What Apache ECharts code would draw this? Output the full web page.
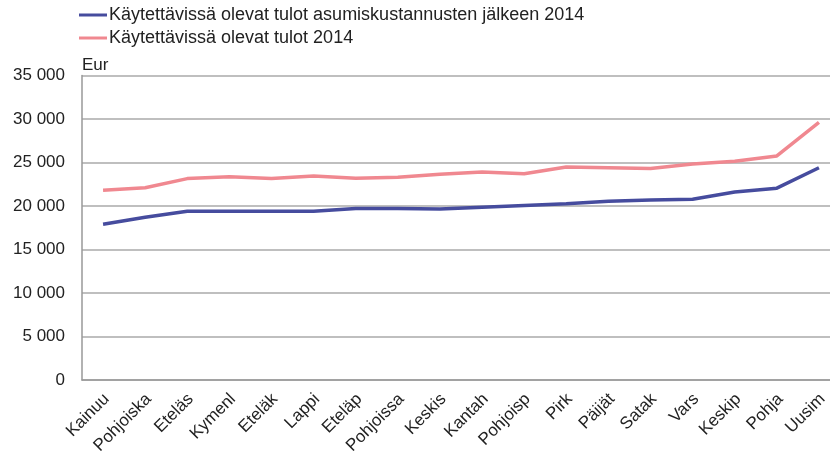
<!DOCTYPE html>
<html><head><meta charset="utf-8">
<script src="https://cdn.jsdelivr.net/npm/echarts@6/dist/echarts.min.js"></script>
<style>html,body{margin:0;padding:0;background:#fff}#c{width:830px;height:459px}</style>
</head><body><div id="c"></div>
<script>
const categories = ['Kainuu','Pohjoiska','Eteläs','Kymenl','Eteläk','Lappi','Eteläp','Pohjoissa','Keskis','Kantah','Pohjoisp','Pirk','Päijät','Satak','Vars','Keskip','Pohja','Uusim'];
const afterHousing = [17900,18700,19400,19400,19400,19400,19700,19700,19650,19850,20050,20250,20550,20690,20770,21600,22050,24400];
const disposable = [21800,22100,23150,23350,23150,23450,23180,23300,23650,23900,23700,24480,24400,24300,24830,25150,25750,29600];
const seriesNames = ['Käytettävissä olevat tulot asumiskustannusten jälkeen 2014','Käytettävissä olevat tulot 2014'];
const yTicks = [0,5000,10000,15000,20000,25000,30000,35000];

const fmt = v => v === 0 ? '0' : String(v).replace(/\B(?=(\d{3})+(?!\d))/g, ' ');
const chart = echarts.init(document.getElementById('c'), null, {renderer:'canvas'});
const font = 'Liberation Sans, Arial, sans-serif';
chart.setOption({
  animation:false,
  legend:{
    orient:'vertical', left:74, top:1, itemGap:5,
    itemWidth:28, itemHeight:3, icon:'rect',
    textStyle:{fontFamily:font,fontSize:18,color:'#222',padding:[0,0,0,-3]},
    data:seriesNames
  },
  grid:{left:82, top:75.5, width:758, height:304.5, containLabel:false, outerBoundsMode:'none'},
  xAxis:{
    type:'category', data:categories, boundaryGap:true,
    axisLine:{lineStyle:{color:'#999',width:1.5}},
    axisTick:{show:false},
    axisLabel:{rotate:45, interval:0, fontFamily:font, fontSize:17, color:'#222', margin:20, padding:[0,-5,0,0]}
  },
  yAxis:{
    type:'value', min:yTicks[0], max:yTicks[yTicks.length-1], interval:5000,
    name:'Eur', nameLocation:'end', nameGap:2,
    nameTextStyle:{fontFamily:font,fontSize:17,color:'#222',align:'left',padding:[0,0,0,0]},
    axisLine:{show:true,lineStyle:{color:'#999',width:1.5}},
    axisTick:{show:false},
    splitLine:{lineStyle:{color:'#aaa',width:1.5}},
    axisLabel:{formatter:fmt, fontFamily:font, fontSize:17, color:'#222', margin:17}
  },
  series:[
    {name:seriesNames[0], type:'line', data:afterHousing, symbol:'none',
     lineStyle:{color:'#464c9e',width:3.5}, itemStyle:{color:'#464c9e'}, z:3},
    {name:seriesNames[1], type:'line', data:disposable, symbol:'none',
     lineStyle:{color:'#f08890',width:3.5}, itemStyle:{color:'#f08890'}, z:2}
  ]
});
</script></body></html>
